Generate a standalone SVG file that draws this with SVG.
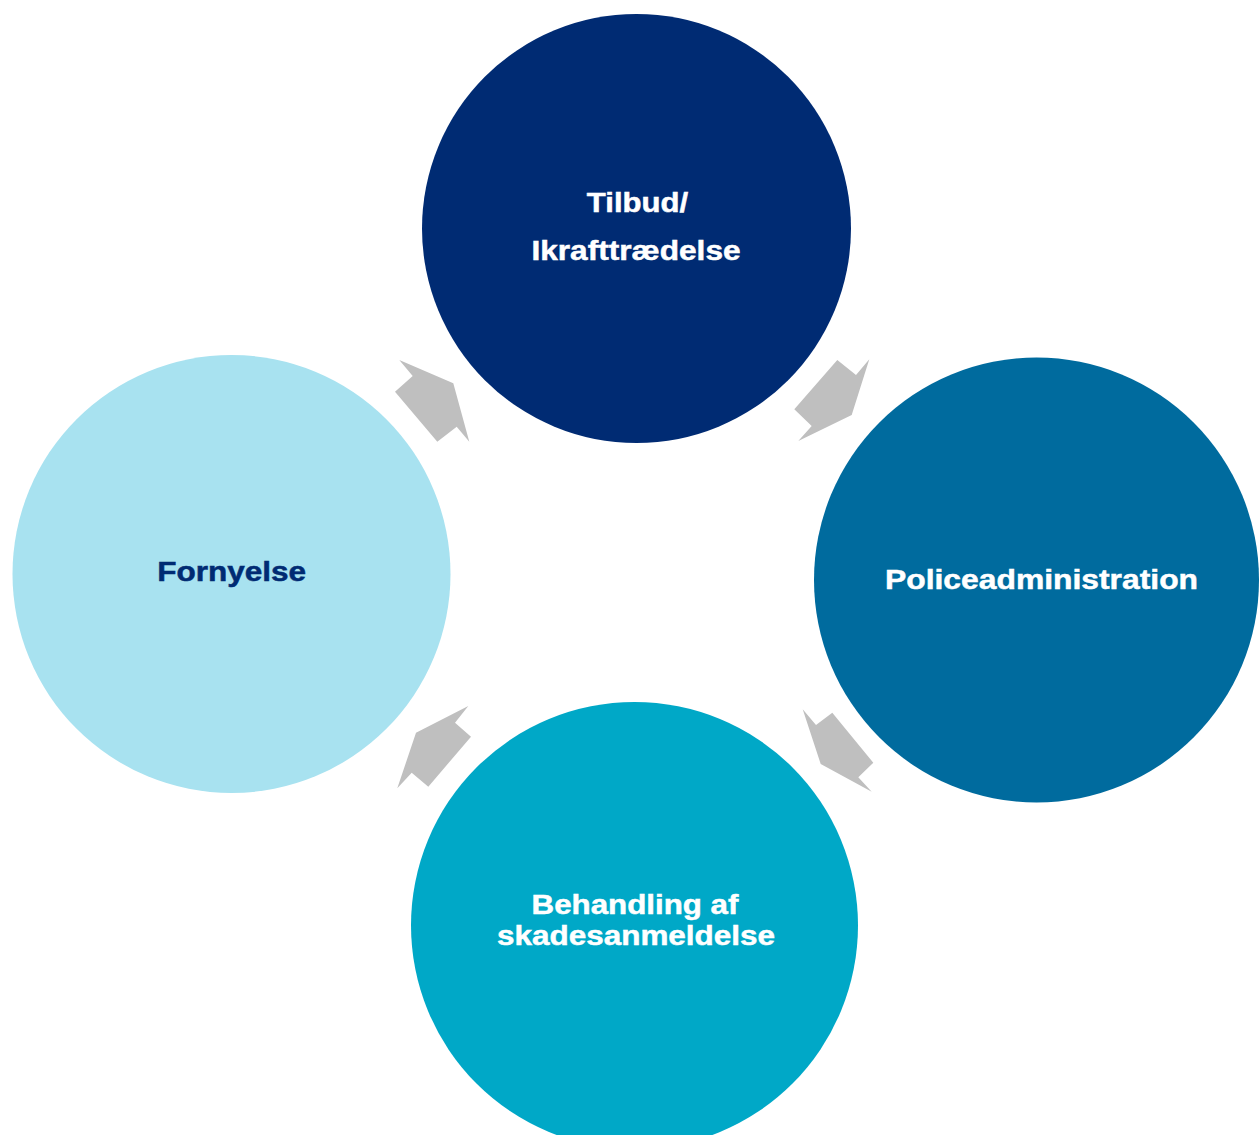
<svg xmlns="http://www.w3.org/2000/svg" width="1260" height="1135" viewBox="0 0 1260 1135">
<style>
.lbl{font-family:"Liberation Sans",Arial,sans-serif;font-weight:bold;font-size:28px;text-anchor:middle;stroke-width:0.5px}
.w{fill:#ffffff;stroke:#ffffff}
.d{fill:#002b73;stroke:#002b73}
.arr{fill:#bfbfbf}
</style>
<rect width="1260" height="1135" fill="#ffffff"/>
<g id="connectors">
<polygon class="arr" points="399.3,360 412.7,376 395,391.7 437.3,441.7 456.7,426.7 469.3,441.7 453.3,383.3"/>
<polygon class="arr" points="837.3,360 856,375 869.3,359.3 851.7,415 798.3,441 811.7,426 794.3,409.3"/>
<polygon class="arr" points="802.7,709.3 816,725 832.3,712.7 873.3,762.7 858.3,777.3 871.7,791.7 820.7,764"/>
<polygon class="arr" points="468.3,706 455,722.7 471,736.7 428.3,786.7 411.7,772.7 397.3,788.3 416,732.7"/>
</g>
<g id="node-tilbud">
<circle cx="636.5" cy="228.5" r="214.5" fill="#002b73"/>
<text class="lbl w" transform="translate(637.5,212) scale(1.11,1)">Tilbud/</text>
<text class="lbl w" transform="translate(636,260) scale(1.13,1)">Ikrafttrædelse</text>
</g>
<g id="node-police">
<circle cx="1036.5" cy="580" r="222.5" fill="#006b9e"/>
<text class="lbl w" transform="translate(1041.5,589) scale(1.137,1)">Policeadministration</text>
</g>
<g id="node-behandling">
<circle cx="634.5" cy="925.5" r="223.5" fill="#00a8c7"/>
<text class="lbl w" transform="translate(635,914) scale(1.118,1)">Behandling af</text>
<text class="lbl w" transform="translate(636,945) scale(1.123,1)">skadesanmeldelse</text>
</g>
<g id="node-fornyelse">
<circle cx="231.5" cy="574" r="219" fill="#a8e2f0"/>
<text class="lbl d" transform="translate(231.7,581) scale(1.126,1)">Fornyelse</text>
</g>
</svg>
